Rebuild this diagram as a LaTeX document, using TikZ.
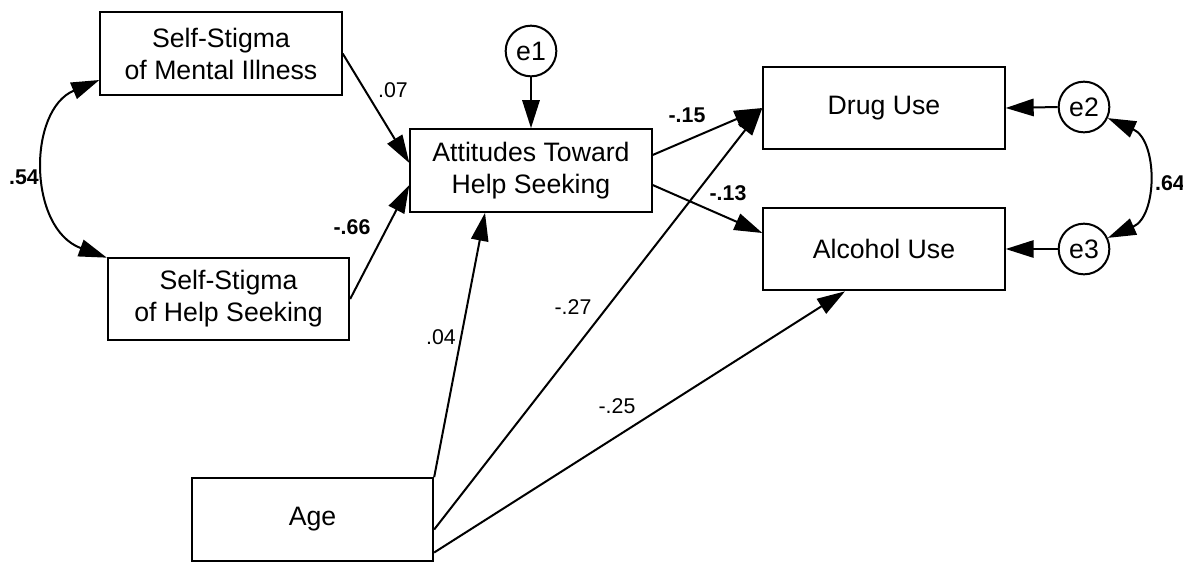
\documentclass[tikz,border=0pt]{standalone}
\usepackage{fontspec}
\setmainfont{Liberation Sans}
\usetikzlibrary{calc,arrows.meta}
\begin{document}
\begin{tikzpicture}[x=0.75pt,y=-0.75pt,
  box/.style={draw,line width=1.5pt,inner sep=0pt,align=center,
    font=\fontsize{20}{24}\selectfont,minimum width=181pt,minimum height=62pt},
  err/.style={draw,circle,line width=1.5pt,inner sep=0pt,minimum size=38pt,
    font=\fontsize{20}{24}\selectfont},
  path/.style={line width=1.5pt,-{Triangle[length=21pt,width=13pt]}},
  cov/.style={line width=1.5pt,{Triangle[length=21pt,width=13pt]}-{Triangle[length=21pt,width=13pt]}},
  lab/.style={font=\fontsize{16}{18}\selectfont,inner sep=0pt},
  blab/.style={font=\fontsize{16}{18}\selectfont\bfseries,inner sep=0pt}]
\useasboundingbox (0,0) rectangle (1183,562);
% boxes
\node[box] (ssmi) at (221,53.5) {Self-Stigma\\of Mental Illness};
\node[box] (sshs) at (228.5,299) {Self-Stigma\\of Help Seeking};
\node[box] (aths) at (531,170.5) {Attitudes Toward\\Help Seeking};
\node[box] (drug) at (884,108) {Drug Use};
\node[box] (alc) at (884,249) {Alcohol Use};
\node[box] (age) at (312.5,519.5) {Age};
\node[err] (e1) at (531,51) {e1};
\node[err] (e2) at (1084,107) {e2};
\node[err] (e3) at (1084,249) {e3};
% paths
\draw[path] (ssmi.east) -- ($(aths.west)+(0,-7.5)$);
\draw[path] (sshs.east) -- ($(aths.west)+(0,14.5)$);
\draw[path] (e1.south) -- (aths.north);
\draw[path] ($(aths.east)+(0,-15.5)$) -- (drug.west);
\draw[path] ($(aths.east)+(0,14.5)$) -- ($(alc.west)+(0,-16)$);
\draw[path] (age.north east) -- ($(aths.south)+(-46,0)$);
\draw[path] ($(age.east)+(0,10)$) -- (drug.west);
\draw[path] ($(age.east)+(0,33)$) -- ($(alc.south)+(-39,0)$);
\draw[path] (e2.west) -- (drug.east);
\draw[path] (e3.west) -- (alc.east);
% covariances
\coordinate (c1) at ($(ssmi.west)+(0,26.5)$);
\coordinate (c2) at ($(sshs.north west)+(0,1)$);
\draw[cov] (c1) .. controls +(-72,30) and +(-79,-29) .. (c2);
\draw[cov] (e2.-25) .. controls +(50,22) and +(50,-22) .. (e3.25);
% labels
\node[lab] (l07) at (393,90) {.07};
\node[blab] (l66) at (352,227) {-.66};
\node[blab] (l15) at (687,115) {-.15};
\node[blab] (l13) at (728,193) {-.13};
\node[lab] (l04) at (441,337) {.04};
\node[lab] (l27) at (573,307) {-.27};
\node[lab] (l25) at (617,406) {-.25};
\node[blab] (l54) at (24,177) {.54};
\node[blab] (l64) at (1170,183) {.64};
\end{tikzpicture}
\end{document}
